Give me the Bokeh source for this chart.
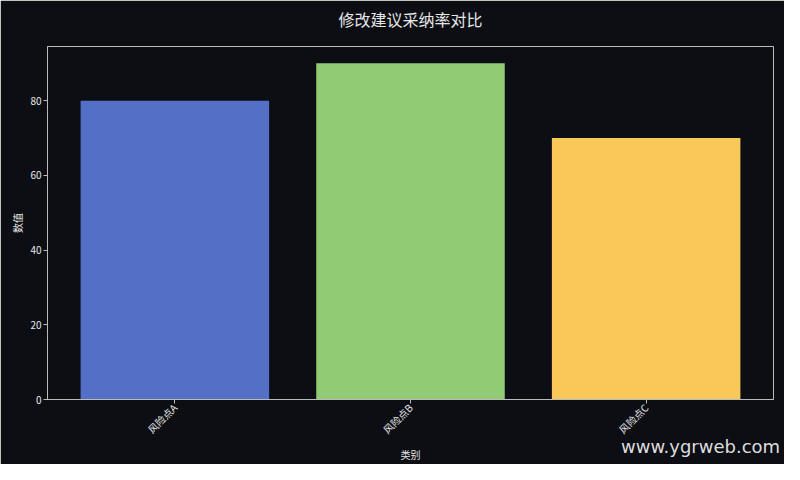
from bokeh.plotting import figure
from bokeh.models import Range1d, Title, FixedTicker, Div
from bokeh.layouts import column
from bokeh.embed import file_html
from bokeh.resources import INLINE
import math

categories = ["风险点A", "风险点B", "风险点C"]
values = [80, 90, 70]
colors = ["#5470c6", "#91cc75", "#fac858"]
y_ticks = [0, 20, 40, 60, 80]

BG = "#0c0e14"
FG = "#e6e6e6"
CJK = "Noto Sans CJK SC"

p = figure(width=784, height=464, x_range=categories, y_range=Range1d(0, 94.5),
           x_axis_label="类别", y_axis_label="数值",
           output_backend="svg", toolbar_location=None,
           background_fill_color=BG, border_fill_color=BG,
           min_border_left=47, min_border_right=11, min_border_top=46, min_border_bottom=60)
p.x_range.range_padding = 0.027

p.vbar(x=categories, top=values, width=0.8, fill_color=colors, line_color=None)

# spacer first (closest to frame), then the real title above it
p.add_layout(Title(text=" ", text_font_size="12px", standoff=0), "above")
p.add_layout(Title(text="修改建议采纳率对比", align="center", offset=7, standoff=0,
                   text_color=FG, text_font=CJK, text_font_size="16px",
                   text_font_style="normal"), "above")

p.grid.visible = False
p.outline_line_color = "#bbbbbb"
p.outline_line_width = 1

for ax in (p.xaxis, p.yaxis):
    ax.axis_line_color = "#bbbbbb"
    ax.major_tick_line_color = "#bbbbbb"
    ax.minor_tick_line_color = None
    ax.major_tick_in = 0
    ax.major_tick_out = 4
    ax.major_label_standoff = 2
    ax.axis_label_standoff = 2
    ax.major_label_text_color = FG
    ax.major_label_text_font = CJK
    ax.major_label_text_font_size = "10px"
    ax.axis_label_text_color = FG
    ax.axis_label_text_font = CJK
    ax.axis_label_text_font_size = "10px"
    ax.axis_label_text_font_style = "normal"

p.yaxis.ticker = FixedTicker(ticks=y_ticks)
p.xaxis.major_label_orientation = math.pi / 4

# watermark laid over the bottom right corner of the figure
wm = Div(text="www.ygrweb.com", margin=(-28, 0, 0, 621),
         styles={"color": "#dddddd", "font-size": "18px", "font-family": "DejaVu Sans",
                 "line-height": "22px", "white-space": "nowrap"})

open("out.html", "w").write(file_html(column(p, wm), INLINE))
